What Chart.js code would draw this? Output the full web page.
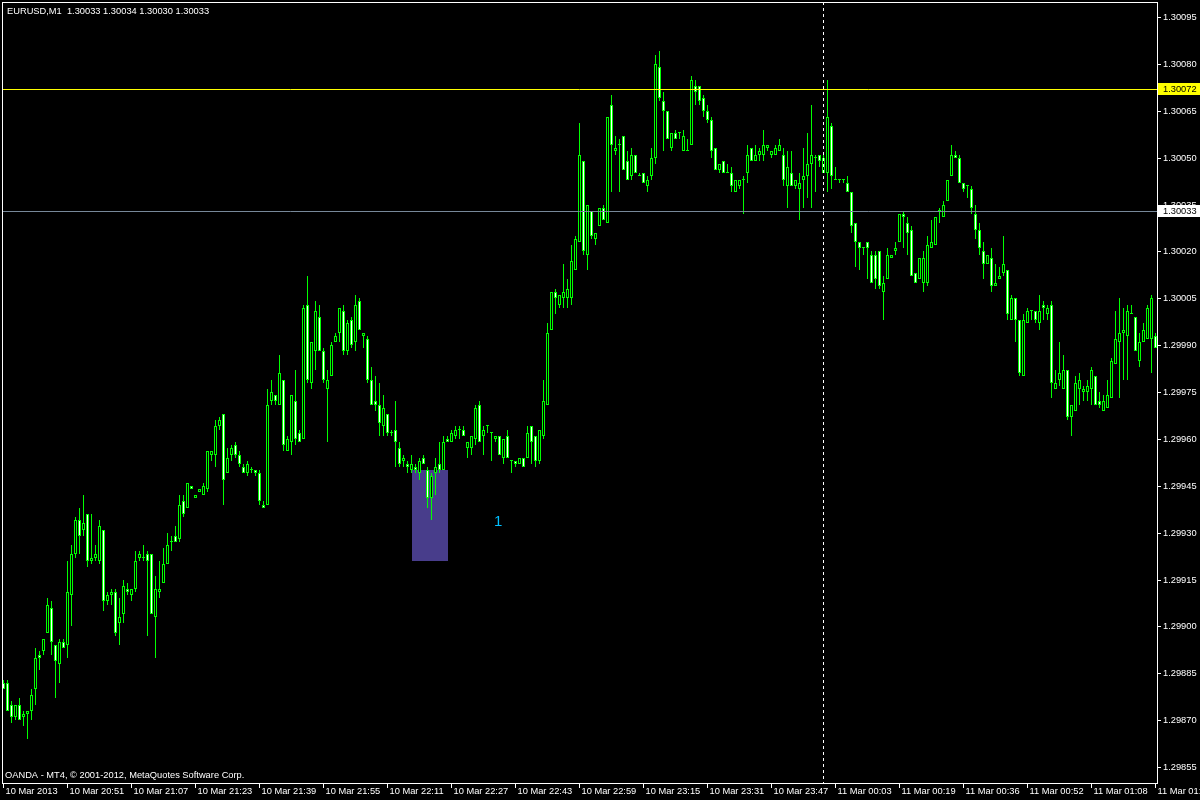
<!DOCTYPE html>
<html lang="en">
<head>
    <meta charset="UTF-8">
    <title>EURUSD,M1</title>
    <style>
        html, body {
            margin: 0;
            padding: 0;
            background: #000;
        }
        canvas {
            display: block;
        }
    </style>
</head>
<body>
    <canvas id="priceChart" width="1200" height="800"></canvas>

    <script src="https://cdn.jsdelivr.net/npm/chart.js"></script>
    <script>
        // M1 bars, one value per minute, oldest first
        const opens = [
            1.29882, 1.29882, 1.29875, 1.29871, 1.29875, 1.29871, 1.29872, 1.29873, 1.29880, 1.29891,
            1.29892, 1.29898, 1.29906, 1.29894, 1.29888, 1.29895, 1.29894, 1.29910, 1.29923, 1.29934,
            1.29931, 1.29936, 1.29921, 1.29922, 1.29921, 1.29931, 1.29908, 1.29910, 1.29911, 1.29901,
            1.29904, 1.29912, 1.29910, 1.29912, 1.29922, 1.29922, 1.29923, 1.29923, 1.29903, 1.29911,
            1.29914, 1.29920, 1.29927, 1.29929, 1.29928, 1.29940, 1.29938, 1.29945, 1.29941, 1.29943,
            1.29942, 1.29944, 1.29955, 1.29955, 1.29964, 1.29968, 1.29949, 1.29955, 1.29958, 1.29955,
            1.29951, 1.29949, 1.29950, 1.29950, 1.29949, 1.29939, 1.29939, 1.29972, 1.29974, 1.29971,
            1.29979, 1.29956, 1.29959, 1.29972, 1.29962, 1.29960, 1.30003, 1.29978, 1.29988, 1.29999,
            1.29988, 1.29976, 1.29980, 1.29991, 1.29994, 1.30001, 1.29988, 1.29998, 1.29991, 1.30004,
            1.29993, 1.29992, 1.29979, 1.29972, 1.29971, 1.29964, 1.29968, 1.29962, 1.29963, 1.29957,
            1.29953, 1.29952, 1.29950, 1.29951, 1.29949, 1.29954, 1.29950, 1.29941, 1.29949, 1.29952,
            1.29950, 1.29960, 1.29959, 1.29961, 1.29963, 1.29963, 1.29957, 1.29957, 1.29960, 1.29971,
            1.29961, 1.29964, 1.29962, 1.29960, 1.29961, 1.29954, 1.29961, 1.29953, 1.29953, 1.29952,
            1.29954, 1.29954, 1.29964, 1.29961, 1.29953, 1.29961, 1.29971, 1.29995, 1.30007, 1.30003,
            1.30005, 1.30005, 1.30005, 1.30014, 1.30023, 1.30049, 1.30019, 1.30033, 1.30024, 1.30028,
            1.30034, 1.30029, 1.30067, 1.30052, 1.30054, 1.30057, 1.30049, 1.30044, 1.30051, 1.30044,
            1.30045, 1.30041, 1.30044, 1.30050, 1.30079, 1.30068, 1.30065, 1.30053, 1.30058, 1.30058,
            1.30052, 1.30052, 1.30054, 1.30073, 1.30073, 1.30069, 1.30065, 1.30062, 1.30053, 1.30046,
            1.30049, 1.30045, 1.30045, 1.30039, 1.30041, 1.30043, 1.30045, 1.30053, 1.30049, 1.30051,
            1.30051, 1.30053, 1.30051, 1.30051, 1.30052, 1.30051, 1.30041, 1.30045, 1.30041, 1.30040,
            1.30043, 1.30044, 1.30048, 1.30050, 1.30051, 1.30045, 1.30045, 1.30060, 1.30043, 1.30043,
            1.30043, 1.30042, 1.30039, 1.30029, 1.30023, 1.30021, 1.30023, 1.30019, 1.30019, 1.30020,
            1.30007, 1.30011, 1.30018, 1.30020, 1.30023, 1.30032, 1.30029, 1.30027, 1.30013, 1.30011,
            1.30010, 1.30010, 1.30021, 1.30022, 1.30033, 1.30031, 1.30036, 1.30044, 1.30051, 1.30050,
            1.30042, 1.30041, 1.30040, 1.30032, 1.30027, 1.30020, 1.30016, 1.30018, 1.30009, 1.30011,
            1.30013, 1.30014, 1.29998, 1.30005, 1.29998, 1.29980, 1.29997, 1.30001, 1.30001, 1.29997,
            1.30003, 1.30000, 1.30003, 1.29976, 1.29979, 1.29976, 1.29982, 1.29967, 1.29969, 1.29976,
            1.29975, 1.29975, 1.29976, 1.29980, 1.29972, 1.29969, 1.29970, 1.29973, 1.29984, 1.29991,
            1.29994, 1.29993, 1.30000, 1.29999, 1.29985, 1.29991, 1.29992, 1.29992, 1.29993
        ];
        const highs = [
            1.29883, 1.29883, 1.29876, 1.29875, 1.29877, 1.29873, 1.29873, 1.29880, 1.29893, 1.29892,
            1.29896, 1.29909, 1.29908, 1.29894, 1.29896, 1.29896, 1.29921, 1.29926, 1.29935, 1.29938,
            1.29942, 1.29936, 1.29936, 1.29926, 1.29934, 1.29931, 1.29911, 1.29912, 1.29912, 1.29909,
            1.29915, 1.29914, 1.29912, 1.29924, 1.29924, 1.29926, 1.29924, 1.29923, 1.29916, 1.29921,
            1.29925, 1.29930, 1.29929, 1.29932, 1.29942, 1.29942, 1.29946, 1.29945, 1.29942, 1.29944,
            1.29946, 1.29956, 1.29956, 1.29966, 1.29967, 1.29968, 1.29957, 1.29958, 1.29959, 1.29956,
            1.29952, 1.29953, 1.29951, 1.29950, 1.29950, 1.29940, 1.29976, 1.29979, 1.29974, 1.29987,
            1.29979, 1.29961, 1.29974, 1.29982, 1.29963, 1.30003, 1.30012, 1.29991, 1.30004, 1.30003,
            1.29989, 1.29982, 1.29991, 1.29994, 1.30002, 1.30003, 1.29998, 1.29999, 1.30006, 1.30005,
            1.29994, 1.29993, 1.29983, 1.29980, 1.29978, 1.29974, 1.29968, 1.29963, 1.29972, 1.29959,
            1.29955, 1.29953, 1.29955, 1.29952, 1.29954, 1.29955, 1.29951, 1.29949, 1.29954, 1.29959,
            1.29961, 1.29961, 1.29963, 1.29964, 1.29964, 1.29964, 1.29959, 1.29961, 1.29971, 1.29972,
            1.29964, 1.29964, 1.29962, 1.29961, 1.29961, 1.29960, 1.29963, 1.29953, 1.29953, 1.29954,
            1.29954, 1.29964, 1.29964, 1.29961, 1.29963, 1.29979, 1.29997, 1.30007, 1.30008, 1.30006,
            1.30016, 1.30011, 1.30022, 1.30025, 1.30061, 1.30049, 1.30035, 1.30033, 1.30026, 1.30034,
            1.30035, 1.30063, 1.30070, 1.30057, 1.30056, 1.30057, 1.30052, 1.30053, 1.30051, 1.30045,
            1.30045, 1.30044, 1.30053, 1.30083, 1.30084, 1.30071, 1.30065, 1.30058, 1.30059, 1.30058,
            1.30059, 1.30056, 1.30076, 1.30075, 1.30073, 1.30070, 1.30067, 1.30063, 1.30053, 1.30048,
            1.30049, 1.30048, 1.30047, 1.30043, 1.30043, 1.30044, 1.30054, 1.30053, 1.30054, 1.30053,
            1.30059, 1.30054, 1.30052, 1.30054, 1.30056, 1.30053, 1.30052, 1.30052, 1.30043, 1.30045,
            1.30053, 1.30058, 1.30067, 1.30051, 1.30051, 1.30051, 1.30075, 1.30061, 1.30047, 1.30043,
            1.30043, 1.30044, 1.30039, 1.30029, 1.30023, 1.30021, 1.30023, 1.30020, 1.30020, 1.30020,
            1.30012, 1.30021, 1.30019, 1.30023, 1.30032, 1.30033, 1.30031, 1.30028, 1.30013, 1.30018,
            1.30020, 1.30025, 1.30030, 1.30031, 1.30034, 1.30036, 1.30043, 1.30054, 1.30052, 1.30051,
            1.30042, 1.30041, 1.30041, 1.30035, 1.30029, 1.30023, 1.30019, 1.30021, 1.30016, 1.30015,
            1.30025, 1.30014, 1.30006, 1.30005, 1.29998, 1.30000, 1.30002, 1.30001, 1.30001, 1.30006,
            1.30004, 1.30003, 1.30004, 1.29982, 1.29991, 1.29987, 1.29982, 1.29971, 1.29980, 1.29981,
            1.29977, 1.29979, 1.29983, 1.29980, 1.29975, 1.29974, 1.29979, 1.29986, 1.30001, 1.30005,
            1.30002, 1.30003, 1.30003, 1.29999, 1.29994, 1.29997, 1.30003, 1.30006, 1.29994
        ];
        const lows = [
            1.29880, 1.29873, 1.29869, 1.29870, 1.29870, 1.29868, 1.29864, 1.29870, 1.29875, 1.29886,
            1.29891, 1.29898, 1.29891, 1.29877, 1.29882, 1.29893, 1.29890, 1.29900, 1.29922, 1.29923,
            1.29929, 1.29919, 1.29920, 1.29921, 1.29920, 1.29905, 1.29907, 1.29907, 1.29897, 1.29894,
            1.29901, 1.29910, 1.29908, 1.29911, 1.29921, 1.29921, 1.29897, 1.29904, 1.29890, 1.29909,
            1.29914, 1.29920, 1.29924, 1.29927, 1.29927, 1.29935, 1.29938, 1.29944, 1.29941, 1.29943,
            1.29942, 1.29943, 1.29953, 1.29951, 1.29963, 1.29939, 1.29949, 1.29953, 1.29954, 1.29951,
            1.29949, 1.29948, 1.29949, 1.29948, 1.29939, 1.29938, 1.29939, 1.29971, 1.29971, 1.29971,
            1.29956, 1.29956, 1.29955, 1.29958, 1.29959, 1.29960, 1.29978, 1.29976, 1.29982, 1.29988,
            1.29978, 1.29959, 1.29980, 1.29991, 1.29991, 1.29987, 1.29987, 1.29989, 1.29988, 1.29995,
            1.29989, 1.29978, 1.29971, 1.29969, 1.29961, 1.29961, 1.29961, 1.29961, 1.29951, 1.29951,
            1.29951, 1.29949, 1.29949, 1.29949, 1.29947, 1.29952, 1.29938, 1.29934, 1.29942, 1.29949,
            1.29950, 1.29959, 1.29959, 1.29960, 1.29960, 1.29961, 1.29954, 1.29955, 1.29958, 1.29959,
            1.29955, 1.29962, 1.29953, 1.29959, 1.29955, 1.29952, 1.29954, 1.29949, 1.29951, 1.29952,
            1.29951, 1.29954, 1.29952, 1.29951, 1.29952, 1.29960, 1.29971, 1.29995, 1.30000, 1.30002,
            1.30002, 1.30002, 1.30003, 1.30014, 1.30023, 1.30019, 1.30014, 1.30024, 1.30022, 1.30028,
            1.30030, 1.30029, 1.30039, 1.30051, 1.30039, 1.30046, 1.30043, 1.30043, 1.30045, 1.30044,
            1.30042, 1.30039, 1.30043, 1.30048, 1.30068, 1.30052, 1.30056, 1.30052, 1.30056, 1.30056,
            1.30052, 1.30052, 1.30054, 1.30067, 1.30067, 1.30063, 1.30061, 1.30050, 1.30046, 1.30045,
            1.30045, 1.30045, 1.30039, 1.30039, 1.30040, 1.30032, 1.30042, 1.30049, 1.30049, 1.30049,
            1.30049, 1.30052, 1.30050, 1.30051, 1.30052, 1.30041, 1.30034, 1.30041, 1.30040, 1.30030,
            1.30034, 1.30037, 1.30034, 1.30039, 1.30047, 1.30045, 1.30039, 1.30040, 1.30043, 1.30042,
            1.30042, 1.30039, 1.30026, 1.30015, 1.30014, 1.30019, 1.30011, 1.30010, 1.30008, 1.30008,
            1.29998, 1.30011, 1.30018, 1.30019, 1.30023, 1.30021, 1.30019, 1.30012, 1.30010, 1.30011,
            1.30007, 1.30009, 1.30021, 1.30022, 1.30029, 1.30031, 1.30036, 1.30044, 1.30050, 1.30042,
            1.30039, 1.30037, 1.30032, 1.30024, 1.30019, 1.30011, 1.30016, 1.30007, 1.30009, 1.30011,
            1.30012, 1.29998, 1.29998, 1.29991, 1.29980, 1.29980, 1.29997, 1.29998, 1.29997, 1.29995,
            1.29998, 1.29998, 1.29973, 1.29976, 1.29977, 1.29976, 1.29966, 1.29961, 1.29969, 1.29971,
            1.29972, 1.29972, 1.29971, 1.29971, 1.29970, 1.29969, 1.29970, 1.29973, 1.29984, 1.29973,
            1.29979, 1.29979, 1.30000, 1.29988, 1.29983, 1.29991, 1.29992, 1.29981, 1.29989
        ];
        const closes = [
            1.29880, 1.29873, 1.29871, 1.29875, 1.29870, 1.29872, 1.29873, 1.29878, 1.29890, 1.29890,
            1.29896, 1.29907, 1.29895, 1.29889, 1.29895, 1.29893, 1.29911, 1.29923, 1.29934, 1.29929,
            1.29933, 1.29921, 1.29922, 1.29923, 1.29932, 1.29908, 1.29910, 1.29911, 1.29898, 1.29903,
            1.29913, 1.29911, 1.29912, 1.29921, 1.29923, 1.29922, 1.29921, 1.29904, 1.29912, 1.29912,
            1.29920, 1.29926, 1.29927, 1.29927, 1.29939, 1.29936, 1.29946, 1.29944, 1.29942, 1.29944,
            1.29945, 1.29956, 1.29956, 1.29964, 1.29966, 1.29947, 1.29954, 1.29957, 1.29955, 1.29952,
            1.29949, 1.29952, 1.29950, 1.29949, 1.29940, 1.29938, 1.29971, 1.29975, 1.29972, 1.29981,
            1.29958, 1.29960, 1.29974, 1.29960, 1.29959, 1.30002, 1.29979, 1.29991, 1.30001, 1.29988,
            1.29979, 1.29979, 1.29990, 1.29993, 1.30002, 1.29988, 1.29997, 1.29990, 1.30003, 1.29995,
            1.29994, 1.29979, 1.29971, 1.29971, 1.29965, 1.29970, 1.29962, 1.29962, 1.29959, 1.29952,
            1.29954, 1.29951, 1.29952, 1.29950, 1.29953, 1.29952, 1.29941, 1.29948, 1.29951, 1.29950,
            1.29959, 1.29959, 1.29962, 1.29963, 1.29963, 1.29961, 1.29959, 1.29961, 1.29970, 1.29959,
            1.29963, 1.29964, 1.29962, 1.29961, 1.29955, 1.29960, 1.29954, 1.29953, 1.29952, 1.29954,
            1.29951, 1.29962, 1.29959, 1.29953, 1.29963, 1.29972, 1.29994, 1.30007, 1.30005, 1.30006,
            1.30007, 1.30008, 1.30017, 1.30024, 1.30051, 1.30020, 1.30035, 1.30025, 1.30026, 1.30034,
            1.30030, 1.30063, 1.30054, 1.30053, 1.30054, 1.30046, 1.30043, 1.30051, 1.30045, 1.30044,
            1.30042, 1.30043, 1.30050, 1.30080, 1.30069, 1.30065, 1.30056, 1.30058, 1.30056, 1.30058,
            1.30057, 1.30052, 1.30075, 1.30071, 1.30068, 1.30065, 1.30062, 1.30052, 1.30046, 1.30048,
            1.30045, 1.30045, 1.30041, 1.30043, 1.30043, 1.30043, 1.30051, 1.30049, 1.30051, 1.30052,
            1.30054, 1.30054, 1.30052, 1.30053, 1.30054, 1.30043, 1.30047, 1.30041, 1.30043, 1.30042,
            1.30044, 1.30048, 1.30051, 1.30050, 1.30049, 1.30050, 1.30063, 1.30044, 1.30043, 1.30043,
            1.30043, 1.30039, 1.30028, 1.30023, 1.30021, 1.30021, 1.30021, 1.30010, 1.30011, 1.30009,
            1.30010, 1.30019, 1.30019, 1.30021, 1.30032, 1.30031, 1.30026, 1.30012, 1.30010, 1.30018,
            1.30018, 1.30022, 1.30023, 1.30031, 1.30033, 1.30035, 1.30043, 1.30051, 1.30050, 1.30042,
            1.30040, 1.30041, 1.30034, 1.30027, 1.30021, 1.30016, 1.30019, 1.30009, 1.30010, 1.30012,
            1.30016, 1.30000, 1.30005, 1.29998, 1.29981, 1.29998, 1.30001, 1.30001, 1.29998, 1.30001,
            1.30002, 1.30002, 1.29978, 1.29978, 1.29981, 1.29982, 1.29967, 1.29971, 1.29978, 1.29979,
            1.29976, 1.29977, 1.29982, 1.29971, 1.29971, 1.29972, 1.29974, 1.29985, 1.29992, 1.29994,
            1.29995, 1.30001, 1.30000, 1.29988, 1.29991, 1.29995, 1.30002, 1.30005, 1.29989
        ];

        // time scale: a label every 16 bars
        const tickBars = [0, 16, 32, 48, 64, 80, 96, 112, 128, 144, 160, 176, 192, 208, 224, 240, 256, 272, 288];
        const tickLabels = [
            '10 Mar 2013', '10 Mar 20:51', '10 Mar 21:07', '10 Mar 21:23', '10 Mar 21:39',
            '10 Mar 21:55', '10 Mar 22:11', '10 Mar 22:27', '10 Mar 22:43', '10 Mar 22:59',
            '10 Mar 23:15', '10 Mar 23:31', '10 Mar 23:47', '11 Mar 00:03', '11 Mar 00:19',
            '11 Mar 00:36', '11 Mar 00:52', '11 Mar 01:08', '11 Mar 01:24'
        ];

        // price scale
        const priceTicks = [
            1.30095, 1.30080, 1.30065, 1.30050, 1.30035, 1.30020, 1.30005, 1.29990, 1.29975,
            1.29960, 1.29945, 1.29930, 1.29915, 1.29900, 1.29885, 1.29870, 1.29855
        ];
        const priceMin = 1.2984956;
        const priceMax = 1.300998;

        // chart objects
        const levelPrice = 1.30072;   // yellow horizontal line
        const bidPrice = 1.30033;     // bid line
        const separatorBar = 205;     // dotted vertical line
        const rectBars = [102, 111];
        const rectPrices = [1.29950, 1.29921];
        const textBar = 122.6;
        const textPrice = 1.29936;
        const textValue = '1';
        const headerText = 'EURUSD,M1  1.30033 1.30034 1.30030 1.30033';
        const footerText = 'OANDA - MT4, \u00A9 2001-2012, MetaQuotes Software Corp.';

        const GREEN = '#00FF00';
        const FONT = '9.3px "Liberation Sans", Arial, sans-serif';

        Chart.defaults.font.family = '"Liberation Sans", Arial, sans-serif';
        Chart.defaults.font.size = 9.3;

        const mt4Objects = {
            id: 'mt4Objects',
            beforeDraw(chart) {
                const ctx = chart.ctx;
                ctx.save();
                ctx.fillStyle = '#000';
                ctx.fillRect(0, 0, chart.width, chart.height);
                ctx.restore();
            },
            beforeDatasetsDraw(chart) {
                const {ctx, scales: {x, y}} = chart;
                const x1 = x.getPixelForValue(rectBars[0]);
                const x2 = x.getPixelForValue(rectBars[1]);
                const y1 = y.getPixelForValue(rectPrices[0]);
                const y2 = y.getPixelForValue(rectPrices[1]);
                ctx.save();
                ctx.fillStyle = '#483D8B';
                ctx.fillRect(Math.round(x1), y1, Math.round(x2 - x1), y2 - y1);
                ctx.restore();
            },
            afterDatasetsDraw(chart) {
                const {ctx, chartArea: a, scales: {x, y}} = chart;
                ctx.save();
                ctx.lineWidth = 1;

                // horizontal lines
                const yl = y.getPixelForValue(levelPrice) + 0.5;
                ctx.strokeStyle = '#FFFF00';
                ctx.beginPath();
                ctx.moveTo(a.left, yl);
                ctx.lineTo(a.right, yl);
                ctx.stroke();

                const yb = y.getPixelForValue(bidPrice) + 0.5;
                ctx.strokeStyle = '#778899';
                ctx.beginPath();
                ctx.moveTo(a.left, yb);
                ctx.lineTo(a.right, yb);
                ctx.stroke();

                // vertical dotted line
                const xs = Math.floor(x.getPixelForValue(separatorBar)) + 0.5;
                ctx.strokeStyle = '#FFFFFF';
                ctx.setLineDash([3, 3]);
                ctx.beginPath();
                ctx.moveTo(xs, a.top);
                ctx.lineTo(xs, a.bottom);
                ctx.stroke();
                ctx.setLineDash([]);

                // text object
                ctx.fillStyle = '#00BFFF';
                ctx.font = '15px Arial, "Liberation Sans", sans-serif';
                ctx.textBaseline = 'top';
                ctx.textAlign = 'left';
                ctx.fillText(textValue, x.getPixelForValue(textBar), y.getPixelForValue(textPrice));

                // frame
                ctx.strokeStyle = '#FFFFFF';
                ctx.strokeRect(a.left + 0.5, a.top + 0.5, a.right - a.left, a.bottom - a.top - 1);
                ctx.restore();
            },
            afterDraw(chart) {
                const {ctx, chartArea: a, scales: {y}} = chart;
                ctx.save();
                ctx.font = FONT;
                ctx.textAlign = 'left';
                ctx.textBaseline = 'alphabetic';
                ctx.fillStyle = '#FFFFFF';
                ctx.fillText(headerText, 7, 14);
                ctx.fillText(footerText, 5, 778);

                // price labels on the axis
                const boxes = [[levelPrice, '#FFFF00'], [bidPrice, '#FFFFFF']];
                ctx.textBaseline = 'middle';
                boxes.forEach(([p, color]) => {
                    const py = y.getPixelForValue(p);
                    ctx.fillStyle = color;
                    ctx.fillRect(a.right + 1, py - 6, 42, 12);
                    ctx.fillStyle = '#000';
                    ctx.fillText(p.toFixed(5), a.right + 6, py + 0.5);
                });
                ctx.restore();
            }
        };

        const bodies = opens.map((o, i) => ({x: i, y: [o, closes[i]]}));
        const wicks = lows.map((l, i) => ({x: i, y: [l, highs[i]]}));

        const ctx = document.getElementById('priceChart').getContext('2d');
        const priceChart = new Chart(ctx, {
            type: 'bar',
            data: {
                datasets: [{
                    label: 'body',
                    data: bodies,
                    order: 0,
                    grouped: false,
                    barPercentage: 1,
                    maxBarThickness: 3,
                    minBarLength: 1,
                    borderWidth: 1,
                    borderSkipped: false,
                    inflateAmount: 0,
                    borderColor: GREEN,
                    backgroundColor: (c) => closes[c.dataIndex] < opens[c.dataIndex] ? '#FFFFFF' : '#000000'
                }, {
                    label: 'wick',
                    data: wicks,
                    order: 1,
                    grouped: false,
                    barPercentage: 1,
                    maxBarThickness: 1,
                    minBarLength: 1,
                    borderWidth: 0,
                    inflateAmount: 0,
                    backgroundColor: GREEN
                }]
            },
            options: {
                responsive: false,
                animation: false,
                devicePixelRatio: 1,
                events: [],
                layout: {
                    padding: {left: 2, top: 2, right: 0, bottom: 0}
                },
                plugins: {
                    legend: {display: false},
                    tooltip: {enabled: false}
                },
                scales: {
                    x: {
                        type: 'linear',
                        min: -0.375,
                        max: 288.375,
                        bounds: 'data',
                        offset: false,
                        border: {display: false},
                        grid: {
                            offset: false,
                            drawOnChartArea: false,
                            drawTicks: true,
                            tickLength: 4,
                            color: '#FFFFFF'
                        },
                        ticks: {
                            color: '#FFFFFF',
                            align: 'start',
                            labelOffset: 2,
                            padding: -2,
                            maxRotation: 0,
                            autoSkip: false,
                            callback: (v) => {
                                const k = tickBars.indexOf(v);
                                return k >= 0 ? tickLabels[k] : '';
                            }
                        },
                        afterBuildTicks: (s) => {
                            s.ticks = tickBars.map(v => ({value: v}));
                        },
                        afterFit: (s) => {
                            s.height = 16;
                            s.paddingLeft = 0;
                            s.paddingRight = 0;
                        }
                    },
                    y: {
                        position: 'right',
                        min: priceMin,
                        max: priceMax,
                        bounds: 'data',
                        beginAtZero: false,
                        alignToPixels: true,
                        border: {display: false},
                        grid: {
                            drawOnChartArea: false,
                            tickLength: 4,
                            color: '#FFFFFF'
                        },
                        ticks: {
                            color: '#FFFFFF',
                            padding: 2,
                            autoSkip: false,
                            callback: (v) => v.toFixed(5)
                        },
                        afterBuildTicks: (s) => {
                            s.ticks = priceTicks.map(v => ({value: v}));
                        },
                        afterFit: (s) => {
                            s.width = 43;
                            s.paddingTop = 0;
                            s.paddingBottom = 0;
                        }
                    }
                }
            },
            plugins: [mt4Objects]
        });
    </script>
</body>
</html>
